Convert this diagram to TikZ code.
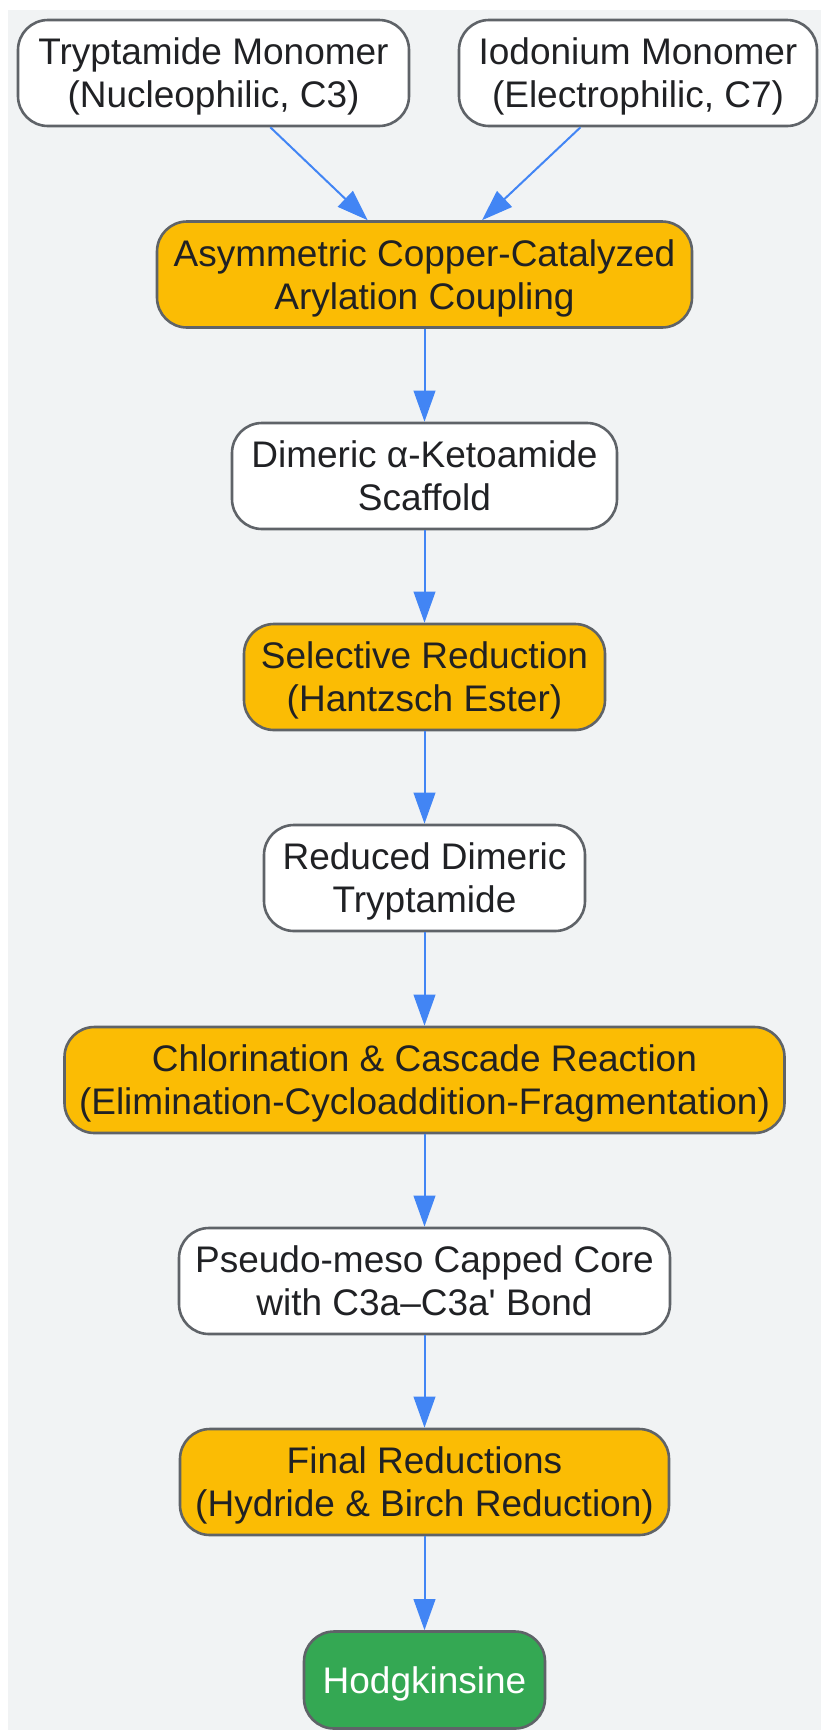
\documentclass[tikz,border=0pt]{standalone}
\usepackage{fontspec}
\newfontfamily\nodefont{Liberation Sans}
\usetikzlibrary{arrows.meta}
\definecolor{panel}{HTML}{F1F3F4}
\definecolor{edgegrey}{HTML}{5F6368}
\definecolor{flowblue}{HTML}{4285F4}
\definecolor{rxnyellow}{HTML}{FBBC04}
\definecolor{prodgreen}{HTML}{34A853}
\definecolor{inktxt}{HTML}{202124}

\begin{document}
\begin{tikzpicture}[x=0.5pt,y=-0.5pt,>={Triangle[length=15.5pt,width=10.8pt]},
                box/.style={rectangle,rounded corners=15pt,draw=edgegrey,line width=1.3pt,
                font=\nodefont\fontsize{18.5pt}{21.5pt}\selectfont,text=inktxt,
                align=center,inner sep=0pt,minimum height=53pt,
                text height=34.7pt,text depth=-3.9pt},
                inter/.style={box,fill=white},
                rxn/.style={box,fill=rxnyellow},
                prod/.style={box,fill=prodgreen,text=white,minimum height=48.5pt,
                text height=13.2pt,text depth=0pt},
                flow/.style={->,draw=flowblue,line width=1pt}]
                \useasboundingbox (0,0) rectangle (821,1730);
                \fill[white] (0,0) rectangle (821,1730);
                \fill[panel] (8,10) rectangle (821,1730);
                % starting monomers
                \node[inter,minimum width=195.5pt] (tryp) at (213.5,73) {Tryptamide Monomer\\(Nucleophilic, C3)};
                \node[inter,minimum width=179pt] (iodo) at (638,73) {Iodonium Monomer\\(Electrophilic, C7)};
                % main sequence
                \node[rxn,minimum width=267.5pt] (coupl) at (424.5,274.5) {Asymmetric Copper-Catalyzed\\Arylation Coupling};
                \node[inter,minimum width=192.5pt] (keto) at (424.5,476) {Dimeric α-Ketoamide\\Scaffold};
                \node[rxn,minimum width=180.5pt] (selred) at (424.5,677) {Selective Reduction\\(Hantzsch Ester)};
                \node[inter,minimum width=160.5pt] (redtry) at (424.5,878) {Reduced Dimeric\\Tryptamide};
                \node[rxn,minimum width=360pt] (casc) at (424.5,1080) {Chlorination \& Cascade Reaction\\(Elimination-Cycloaddition-Fragmentation)};
                \node[inter,minimum width=245.5pt] (core) at (424.5,1281) {Pseudo-meso Capped Core\\with C3a–C3a' Bond};
                \node[rxn,minimum width=244.5pt] (finred) at (424.5,1482) {Final Reductions\\(Hydride \& Birch Reduction)};
                \node[prod,minimum width=120.5pt] (hodg) at (424.5,1680) {Hodgkinsine};
                % connectors
                \draw[flow] (tryp) -- (coupl);
                \draw[flow] (iodo) -- (coupl);
                \draw[flow] (coupl) -- (keto);
                \draw[flow] (keto) -- (selred);
                \draw[flow] (selred) -- (redtry);
                \draw[flow] (redtry) -- (casc);
                \draw[flow] (casc) -- (core);
                \draw[flow] (core) -- (finred);
                \draw[flow] (finred) -- (hodg);
            \end{tikzpicture}
\end{document}
